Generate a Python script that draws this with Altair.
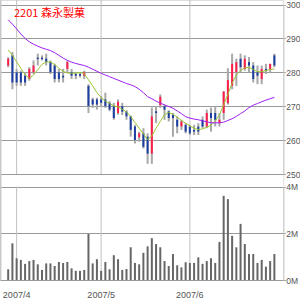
import altair as alt
import pandas as pd

TITLE = "2201 森永製菓"
month_idx = [2, 22, 43]
month_lbl = ["2007/4", "2007/5", "2007/6"]
week_ticks = [2, 7, 12, 17, 22, 29, 34, 39, 44, 49, 54, 59]
price_ticks = [250, 260, 270, 280, 290, 300]
vol_ticks = [0, 2, 4]

opens = [282, 285, 280, 280, 279, 278, 280, 284.3, 284.3, 284, 283, 282, 280, 279, 281, 280,
         279.5, 279.5, 279, 276, 272, 272, 272, 272, 271, 270, 268, 270, 268.4, 267, 264, 260.8,
         262, 261, 256, 268.5, 270.3, 270, 268.5, 267.5, 266, 264, 264.5, 264, 263, 264,
         266, 264, 268, 268, 265, 268, 270.9, 276, 280, 284, 281, 283, 282, 280, 278, 281, 281, 285]
highs = [284.5, 286, 281, 280.5, 280, 281.5, 283.5, 285.5, 285, 285.5, 283.5, 282.5, 281, 281, 283.5, 281,
         280, 280, 280.5, 276.5, 272.5, 272.5, 273, 274, 271.5, 271, 272, 271, 268.8, 267.2, 264.5, 262.5,
         263.5, 262, 269.6, 270, 273.5, 270.5, 268.8, 268, 267, 266, 265, 264.5, 264.5, 265,
         267, 269, 269.6, 270, 268, 274.5, 281.2, 285.5, 284, 285.5, 285, 284.5, 283, 282, 282, 282.5, 282.5, 285.5]
lows = [281.5, 275, 276, 276, 276, 277.5, 279.5, 282, 283.5, 282, 279.5, 277, 277, 277, 280, 278,
        278, 278.5, 278, 268, 269.5, 269, 270, 269.5, 268.5, 266, 267.5, 267.4, 266, 261, 259, 259.5,
        257.5, 253, 253, 265, 269.5, 266, 265.5, 261, 262, 263, 262, 261.5, 261.5, 261.5,
        263.5, 263.5, 262.5, 264, 264, 266, 270.5, 275, 276, 280, 280.5, 280, 277, 276.5, 276.5, 279.5, 280, 281.5]
closes = [284, 277, 277, 277, 277, 281, 282, 283.9, 283.9, 283, 280, 278, 278, 278.5, 283, 279,
          279, 279, 280, 270, 270.5, 270.5, 271, 270, 269, 266.5, 271.3, 268.4, 267, 263, 260, 262,
          258, 256, 267, 268, 272.8, 269, 266.5, 266.5, 264, 265.5, 262.5, 262, 262.5, 262.5,
          264, 268, 266.5, 266, 266, 274.3, 277.7, 282.5, 283, 281.5, 284, 282, 278, 279, 281, 280.5, 282.5, 282]
vols = [0.46, 1.57, 0.93, 0.86, 0.69, 0.81, 0.86, 0.67, 0.43, 0.71, 0.71, 0.6, 0.77, 0.73, 0.77, 0.5,
        0.39, 0.39, 0.43, 1.97, 0.71, 0.89, 0.39, 0.77, 0.46, 1.06, 0.89, 0.43, 0.47, 1.4, 0.73, 0.67,
        1.16, 1.44, 1.79, 1.54, 1.4, 0.81, 0.6, 1.11, 0.63, 0.54, 0.76, 0.73, 0.73, 0.97, 0.69, 0.81,
        0.93, 0.73, 1.63, 3.6, 3.46, 1.89, 1.4, 2.4, 1.54, 1.11, 1.11, 0.73, 0.86, 0.57, 0.81, 1.11]
ma5 = [286.6, 285, 283.1, 281.2, 279.3, 278.2, 279.2, 280.8, 282.3, 283.1, 283, 282.3, 281.2, 280.3, 279.8, 279.7,
       279.8, 279.9, 279.6, 277.8, 276, 274, 272.6, 271.5, 270.8, 270.1, 269.8, 269.1, 268.3, 267, 265.2, 263.5,
       261.8, 260.2, 261.2, 263.5, 265.5, 267.5, 268.2, 267.6, 266.8, 265.8, 265, 264.2, 263.5, 263.1,
       263.3, 263.8, 264.4, 265.6, 267.5, 270.4, 273.5, 276.8, 279.2, 280.5, 281.3, 281.5, 280.8, 280.2, 280.2, 280.5, 280.8, 281]
ma25 = [295.5, 294.2, 292.8, 291.3, 290, 289, 288.3, 287.7, 287.2, 286.8, 286.4, 285.8, 285, 284.2, 283.5, 283,
        282.6, 282.3, 282, 281.5, 280.9, 280.3, 279.7, 279.2, 278.7, 278.2, 277.7, 277.2, 276.7, 276.3, 275.8, 275,
        274, 272.8, 272.2, 271.5, 270.9, 270.4, 269.9, 269.4, 268.6, 267.8, 266.9, 266.5, 266.2, 266,
        265.7, 265.4, 265.1, 265.1, 265.1, 265.3, 265.8, 266.3, 267, 267.8, 268.6, 269.6, 270.3, 270.8, 271.3, 271.8, 272.2, 272.6]

n = len(opens)
df = pd.DataFrame({"i": list(range(n)), "o": opens, "h": highs, "l": lows, "c": closes,
                   "v": vols, "ma5": ma5, "ma25": ma25})
df["dir"] = ["up" if c > o else "down" for o, c in zip(opens, closes)]
months = pd.DataFrame({"i": month_idx, "lbl": month_lbl})
title_df = pd.DataFrame({"t": [TITLE]})

FONT = "Liberation Sans"
W, H = 283.3, 280

xs = alt.Scale(domain=[-0.753, 63.93], nice=False, zero=False)
ps = alt.Scale(domain=[250, 300], range=[174, 4.5], nice=False, zero=False)
vs = alt.Scale(domain=[0, 4], range=[280, 186.5], nice=False, zero=False)

X = alt.X("i:Q", scale=xs, axis=None)
base = alt.Chart(df)

axis_common = dict(orient="right", grid=True, gridColor="#999999", domain=True, domainColor="#c8c8c8",
                   tickColor="#999999", tickSize=2, labelFont=FONT, labelFontSize=8.5,
                   labelColor="#555555", labelPadding=0.5, labelOverlap=False, labelFlush=False,
                   labelBound=False, title=None)
price_axis = alt.Axis(values=price_ticks, **axis_common)
vol_axis = alt.Axis(values=vol_ticks, labelExpr="datum.value + 'M'", **axis_common)

mgrid_top = alt.Chart(months).mark_rule(color="#c0c0c0", strokeWidth=1).encode(
    x=X, y=alt.value(0), y2=alt.value(174))
mgrid_bot = alt.Chart(months).mark_rule(color="#c0c0c0", strokeWidth=1).encode(
    x=X, y=alt.value(186.5), y2=alt.value(280))
left_border = alt.Chart(title_df).mark_rule(color="#c8c8c8", strokeWidth=1.5).encode(
    x=alt.value(0.7), y=alt.value(0), y2=alt.value(280))

wick = base.mark_rule(color="#a8a8a8", strokeWidth=2).encode(
    x=X, y=alt.Y("l:Q", scale=ps, axis=price_axis), y2="h:Q")
body = base.mark_bar(size=2).encode(
    x=X, y=alt.Y("o:Q", scale=ps, axis=price_axis), y2="c:Q",
    color=alt.Color("dir:N", scale=alt.Scale(domain=["up", "down"], range=["#ff1f4b", "#1c3ea3"]), legend=None))
l5 = base.mark_line(color="#99c633", strokeWidth=1).encode(
    x=X, y=alt.Y("ma5:Q", scale=ps, axis=price_axis))
l25 = base.mark_line(color="#a020f0", strokeWidth=1).encode(
    x=X, y=alt.Y("ma25:Q", scale=ps, axis=price_axis))
title = alt.Chart(title_df).mark_text(align="left", baseline="middle", color="#ff0000",
                                      font="Noto Sans CJK JP", fontSize=11).encode(
    text="t:N", x=alt.value(14), y=alt.value(14))

price = alt.layer(mgrid_top, wick, body, l5, l25, title)

volbars = base.mark_bar(size=2, color="#666666").encode(
    x=alt.X("i:Q", scale=xs, axis=alt.Axis(values=week_ticks, labels=False, domain=False, grid=False,
                                           ticks=True, tickSize=5, tickColor="#aaaaaa", title=None)),
    y=alt.Y("v:Q", scale=vs, axis=vol_axis))
mlabels = alt.Chart(months).mark_text(align="center", baseline="middle", font=FONT, fontSize=9,
                                      color="#555555").encode(x=X, text="lbl:N", y=alt.value(295))
volume = alt.layer(mgrid_bot, volbars, mlabels)

chart = alt.layer(price, volume, left_border).resolve_scale(y="independent").properties(
    width=W, height=H, autosize="none",
    padding={"left": 0, "top": 0, "right": 300 - W, "bottom": 300 - H},
).configure_view(stroke=None).configure(background="white")

chart.save("out.html", embed_options={"renderer": "svg", "actions": False})
